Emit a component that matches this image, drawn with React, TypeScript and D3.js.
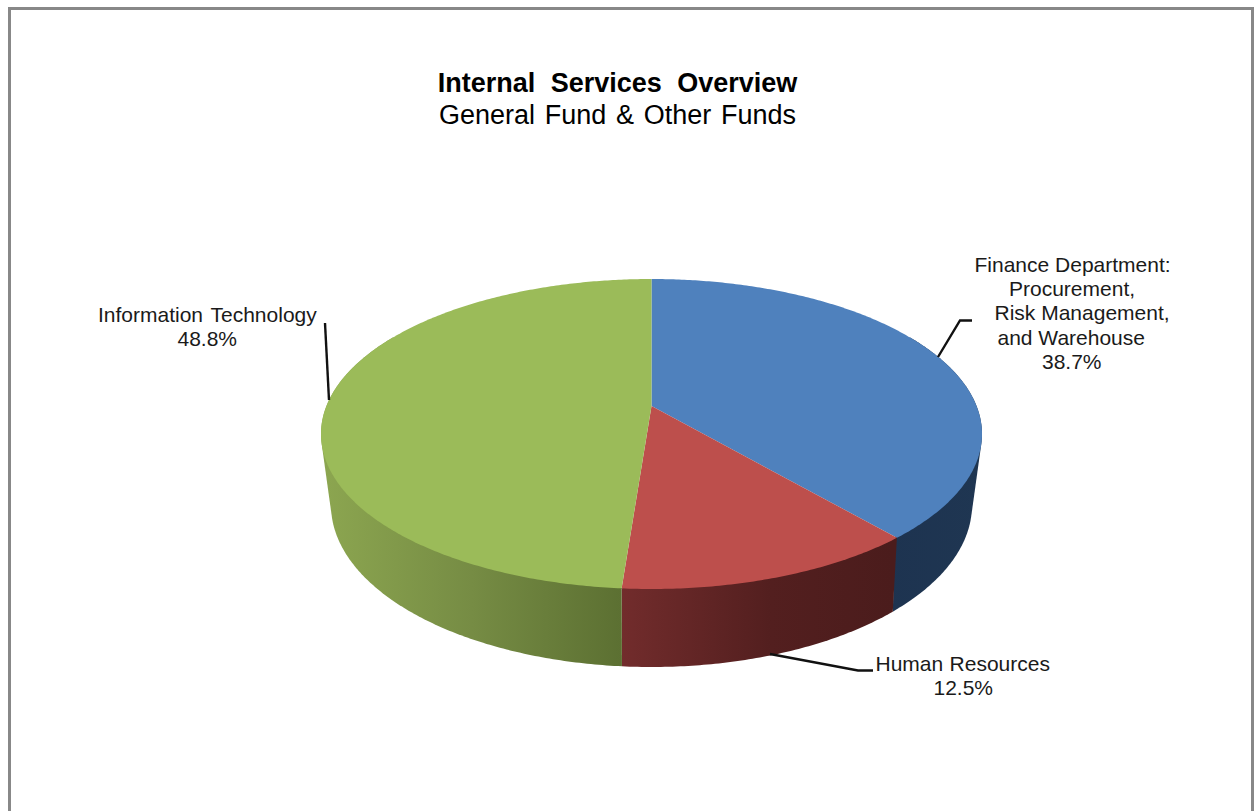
import React from "react";
import * as d3 from "d3";

const categories = ["Finance Department", "Human Resources", "Information Technology"];
const shares = [38.7, 12.5, 48.8];
const topColors = ["#4f81bd", "#bd4f4c", "#9bbb59"];
const titleLines = ["Internal Services Overview", "General Fund & Other Funds"];

const W = 1255;
const H = 811;

// Rim geometry of the tilted disc: two ellipses plus a projective shift of the centre.
const topRim = { cx: 651.5, cy: 434, rx: 330.5, ry: 155, shift: -0.18 };
const baseRim = { cx: 651.5, cy: 505, rx: 320.5, ry: 162, shift: -0.2 };

// Only the near half of the disc shows a wall; the far rim is hidden behind the top face.
const WALL_FROM = Math.PI / 3;
const WALL_TO = (5 * Math.PI) / 3;

type Rim = typeof topRim;

function project(rim: Rim, u: number, v: number): [number, number] {
  const w = 1 + rim.shift * v;
  const k = Math.sqrt(1 - rim.shift * rim.shift);
  return [rim.cx + (rim.rx * (u * k)) / w, rim.cy + (rim.ry * (v + rim.shift)) / w];
}

function rimPoint(rim: Rim, angle: number): [number, number] {
  return project(rim, Math.sin(angle), -Math.cos(angle));
}

function rimRun(rim: Rim, a0: number, a1: number): [number, number][] {
  const n = Math.max(2, Math.ceil(Math.abs(a1 - a0) / 0.01));
  return d3.range(n + 1).map((i) => rimPoint(rim, a0 + ((a1 - a0) * i) / n));
}

const toPath = d3.line<[number, number]>();

const arcs = d3.pie<number>().sort(null)(shares);

const LABEL_FONT = "'Liberation Sans', Arial, sans-serif";

const labelRows: { x: number; y: number; text: string; gap?: number }[] = [
  { x: 974.5, y: 272, text: "Finance Department:" },
  { x: 1009, y: 296, text: "Procurement," },
  { x: 994.5, y: 320, text: "Risk Management," },
  { x: 997.5, y: 345, text: "and Warehouse" },
  { x: 1042, y: 369, text: "38.7%" },
  { x: 875.5, y: 671, text: "Human Resources", gap: 0.5 },
  { x: 933.5, y: 695, text: "12.5%" },
  { x: 98, y: 322, text: "Information Technology", gap: 2 },
  { x: 177.5, y: 346, text: "48.8%" },
];

const leaders: [number, number][][] = [
  [[938, 357], [960, 320.5], [972, 320.5]],
  [[770, 654], [858, 670.5], [873, 670.5]],
  [[325, 323], [329, 400]],
];

export default function App() {
  return (
    <svg
      width={W}
      height={H}
      viewBox={`0 0 ${W} ${H}`}
      style={{ position: "absolute", left: 0, top: 0, display: "block", background: "#fff" }}
    >
      <defs>
        <linearGradient id="side-blue" gradientUnits="userSpaceOnUse" x1={880} x2={985} y1={0} y2={0}>
          <stop offset="0" stopColor="#1d3350" />
          <stop offset="1" stopColor="#1f3652" />
        </linearGradient>
        <linearGradient id="side-red" gradientUnits="userSpaceOnUse" x1={621} x2={892} y1={0} y2={0}>
          <stop offset="0" stopColor="#722c2c" />
          <stop offset="0.55" stopColor="#531f1f" />
          <stop offset="1" stopColor="#4b1c1c" />
        </linearGradient>
        <linearGradient id="side-green" gradientUnits="userSpaceOnUse" x1={322} x2={621} y1={0} y2={0}>
          <stop offset="0" stopColor="#8ca650" />
          <stop offset="0.5" stopColor="#768c44" />
          <stop offset="1" stopColor="#5c7032" />
        </linearGradient>
      </defs>

      <rect x={9.5} y={8.5} width={1243} height={H + 20} fill="#fff" stroke="#888888" strokeWidth={3} />

      {/* Outer wall of each slice: the hull of its two rim runs, with the tangent edges included. */}
      {arcs.map((a, i) => {
        const from = Math.max(a.startAngle, WALL_FROM);
        const to = Math.min(a.endAngle, WALL_TO);
        const hull = d3.polygonHull([...rimRun(topRim, from, to), ...rimRun(baseRim, from, to)]) as [number, number][];
        const fill = ["url(#side-blue)", "url(#side-red)", "url(#side-green)"][i];
        return <path key={categories[i]} d={toPath(hull) + "Z"} fill={fill} />;
      })}

      {arcs.map((a, i) => {
        const apex = project(topRim, 0, 0);
        const rim = rimRun(topRim, a.startAngle, a.endAngle);
        return <path key={categories[i]} d={toPath([apex, ...rim]) + "Z"} fill={topColors[i]} />;
      })}

      {leaders.map((pts, i) => (
        <path key={i} d={toPath(pts) ?? ""} fill="none" stroke="#111" strokeWidth={2.4} />
      ))}

      <text x={617.5} y={92} textAnchor="middle" fontFamily={LABEL_FONT} fontSize={27} fontWeight={700} fill="#000" style={{ wordSpacing: "8px" }}>
        {titleLines[0]}
      </text>
      <text x={617.5} y={124} textAnchor="middle" fontFamily={LABEL_FONT} fontSize={27} fill="#000" style={{ wordSpacing: "2.2px" }}>
        {titleLines[1]}
      </text>

      {labelRows.map((r) => (
        <text key={r.text} x={r.x} y={r.y} fontFamily={LABEL_FONT} fontSize={21} fill="#1a1a1a" style={{ wordSpacing: `${r.gap ?? 0}px` }}>
          {r.text}
        </text>
      ))}
    </svg>
  );
}
